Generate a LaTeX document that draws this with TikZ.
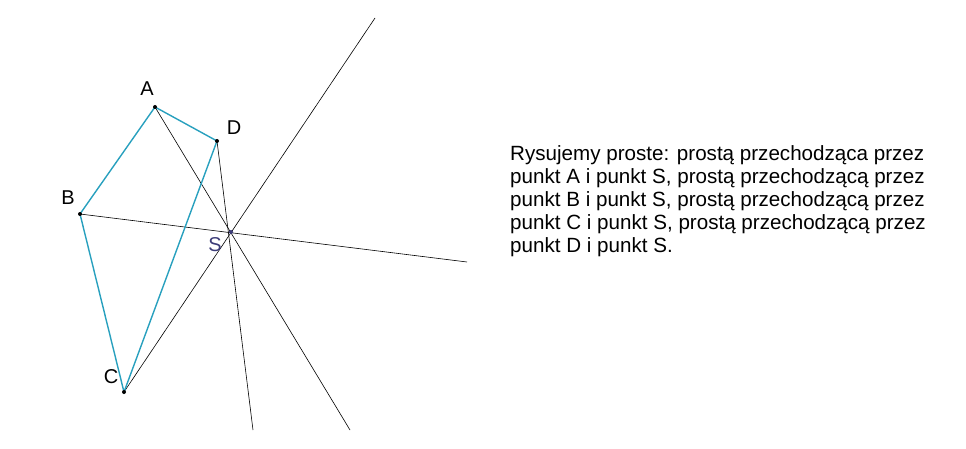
\documentclass[tikz,border=0pt]{standalone}
\usepackage{fontspec}
\setmainfont{Liberation Sans}
\definecolor{quad}{RGB}{40,160,190}
\definecolor{sblue}{RGB}{60,60,120}
\begin{document}
\begin{tikzpicture}[x=1pt,y=-1pt,
  quadline/.style={draw=quad, line width=1.4pt},
  thin line/.style={draw=black, line width=0.6pt},
  ptdot/.style={circle, fill=black, inner sep=0pt, minimum size=4pt},
  ptlabel/.style={font=\fontsize{20}{22}\selectfont, inner sep=0pt},
  txt/.style={font=\fontsize{20.6}{23.1}\selectfont, align=left, anchor=north west, inner sep=0pt}]
\useasboundingbox (0,0) rectangle (966,449);
\coordinate (A) at (155,107);
\coordinate (D) at (217,141);
\coordinate (B) at (80,214);
\coordinate (C) at (124,392);
\coordinate (S) at (231,232);
\coordinate (eA) at (350,430);
\coordinate (eD) at (253,430);
\coordinate (eB) at (467,262);
\coordinate (eC) at (375,18);
% lines through S
\draw[thin line] (A) -- (eA);
\draw[thin line] (D) -- (eD);
\draw[thin line] (B) -- (eB);
\draw[thin line] (C) -- (eC);
% quadrilateral
\draw[quadline] (A) -- (B) -- (C) -- (D) -- cycle;
% dots
\node[ptdot] (dA) at (A) {};
\node[ptdot] (dB) at (B) {};
\node[ptdot] (dC) at (C) {};
\node[ptdot] (dD) at (D) {};
\node[ptdot, fill=sblue] (dS) at (S) {};
% labels
\node[ptlabel] (lA) at (147,89) {A};
\node[ptlabel] (lD) at (234,128) {D};
\node[ptlabel] (lB) at (68,198) {B};
\node[ptlabel] (lC) at (111,377) {C};
\node[ptlabel, text=sblue] (lS) at (215,245) {S};
% text
\node[txt] (t) at (510,145) {Rysujemy proste: prostą przechodząca przez\\
punkt A i punkt S, prostą przechodzącą przez\\
punkt B i punkt S, prostą przechodzącą przez\\
punkt C i punkt S, prostą przechodzącą przez\\
punkt D i punkt S.};
\end{tikzpicture}
\end{document}
